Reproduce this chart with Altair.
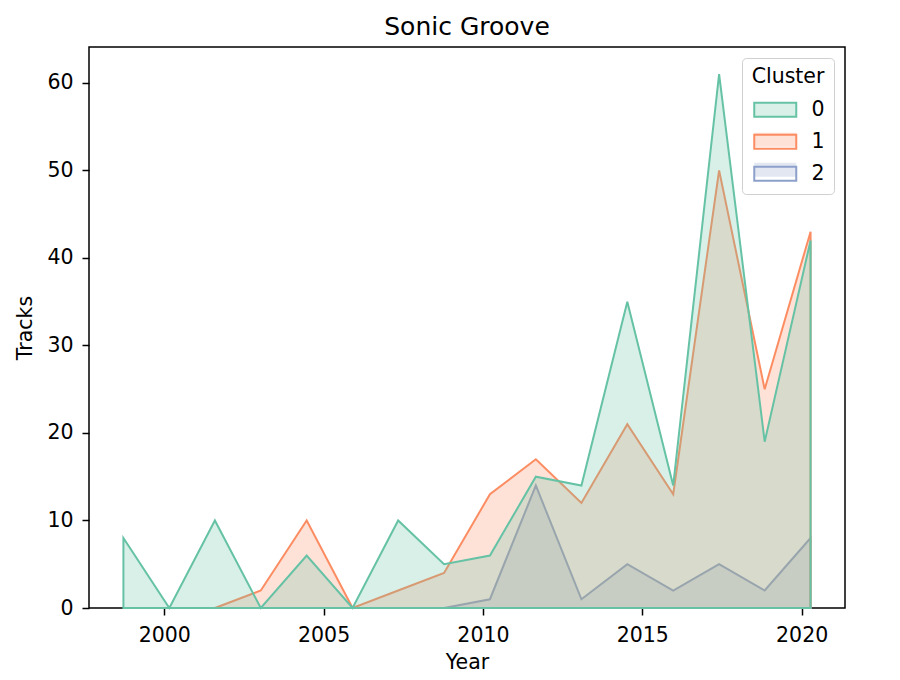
import altair as alt
import pandas as pd

# Bin centres (histogram bins of width ~1.44 years) and track counts per cluster
years = [1998.72, 2000.16, 2001.59, 2003.03, 2004.47, 2005.91, 2007.34, 2008.78,
         2010.22, 2011.66, 2013.09, 2014.53, 2015.97, 2017.41, 2018.84, 2020.28]
cluster0 = [8, 0, 10, 0, 6, 0, 10, 5, 6, 15, 14, 35, 14, 61, 19, 42]
cluster1 = [None, None, 0, 2, 10, 0, 2, 4, 13, 17, 12, 21, 13, 50, 25, 43]
cluster2 = [None, None, None, None, None, None, None, 0, 1, 14, 1, 5, 2, 5, 2, 8]

clusters = ["0", "1", "2"]
colors = ["#66c2a5", "#fc8d62", "#8da0cb"]
x_ticks = [2000, 2005, 2010, 2015, 2020]
y_ticks = [0, 10, 20, 30, 40, 50, 60]

rows = []
# drawn in reverse order so that cluster 0 ends up on top
for name, series in reversed(list(zip(clusters, [cluster0, cluster1, cluster2]))):
    for yr, v in zip(years, series):
        if v is not None:
            rows.append({"Year": yr, "Tracks": v, "Cluster": name})
df = pd.DataFrame(rows)

FONT = "DejaVu Sans"
FS = 20.5

common_legend = dict(
    orient="none",
    legendX=653,
    legendY=11,
    direction="vertical",
    padding=9,
    titleFont=FONT,
    titleFontSize=FS,
    titleFontWeight="normal",
    titleColor="black",
    titleAnchor="middle",
    labelFont=FONT,
    labelFontSize=FS,
    labelColor="black",
    symbolType="M-1,-1H5V1H-1Z",
    symbolSize=196,
    rowPadding=9,
    labelOffset=40,
    titlePadding=12,
)

# legend carrying only the translucent swatch fills (placeholder texts are blank)
fill_legend = alt.Legend(
    title=" ",
    labelExpr="' '",
    symbolOpacity=0.25,
    symbolStrokeWidth=0,
    **common_legend,
)
# legend carrying the frame, the swatch outlines, the title and the labels
stroke_legend = alt.Legend(
    title="Cluster",
    strokeColor="#d0d0d0",
    cornerRadius=4,
    symbolFillColor="transparent",
    symbolStrokeWidth=2,
    **common_legend,
)

chart = alt.Chart(df).mark_area(
    fillOpacity=0.25,
    strokeOpacity=1,
    strokeWidth=2,
    interpolate="linear",
).encode(
    x=alt.X(
        "Year:Q",
        scale=alt.Scale(domain=[1997.64, 2021.36], nice=False, zero=False),
        axis=alt.Axis(values=x_ticks, format="d", title="Year", grid=False,
                      tickSize=7, tickWidth=1.5, labelPadding=10, titlePadding=7,
                      domain=False, tickColor="black"),
    ),
    y=alt.Y(
        "Tracks:Q",
        stack=None,
        scale=alt.Scale(domain=[0, 64.1], nice=False),
        axis=alt.Axis(values=y_ticks, title="Tracks", grid=False,
                      tickSize=7, tickWidth=1.5, labelPadding=9, titlePadding=11,
                      domain=False, tickColor="black"),
    ),
    color=alt.Color("Cluster:N", scale=alt.Scale(range=colors), legend=fill_legend),
    stroke=alt.Stroke("Cluster:N", scale=alt.Scale(domain=clusters, range=colors),
                      legend=stroke_legend),
    order=alt.Order("Cluster:N", sort="descending"),
).properties(
    width=756,
    height=561,
    title=alt.Title("Sonic Groove", font=FONT, fontSize=25, fontWeight="normal",
                    color="black", offset=7),
    autosize=alt.AutoSizeParams(type="none"),
    padding={"left": 81, "top": 39, "right": 40, "bottom": 72},
).configure_view(
    stroke="black",
    strokeWidth=1.5,
).configure_axis(
    labelFont=FONT,
    labelFontSize=FS,
    labelColor="black",
    titleFont=FONT,
    titleFontSize=FS,
    titleFontWeight="normal",
    titleColor="black",
)

chart.save("out.html", embed_options={"renderer": "svg", "actions": False})
